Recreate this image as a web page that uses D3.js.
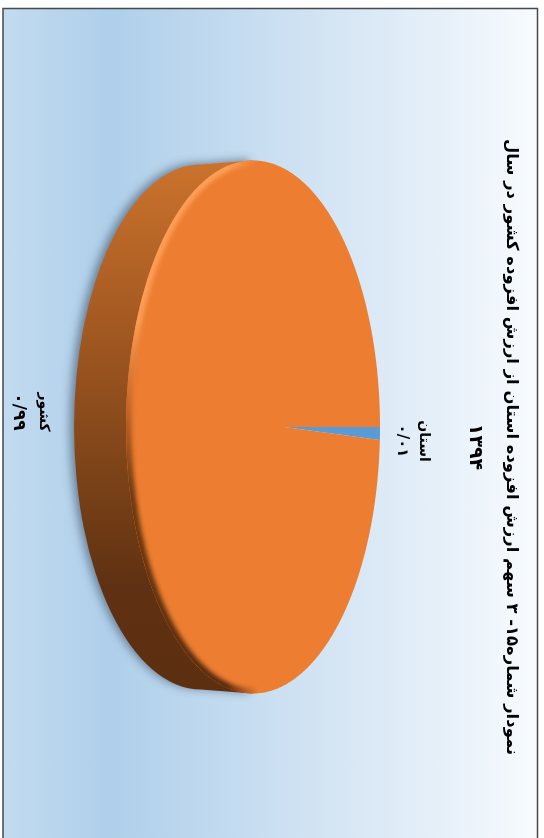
<!DOCTYPE html>
<html>
<head>
<meta charset="utf-8">
<script src="https://cdn.jsdelivr.net/npm/d3@7"></script>
<style>
    html, body { margin: 0; padding: 0; background: #fff; }
    svg { display: block; }
    text { font-family: "DejaVu Sans", sans-serif; fill: #000; direction: rtl; }
</style>
</head>
<body>
<svg width="544" height="838"></svg>
<script>
var categories = ["استان", "کشور"];
var shares = [0.01, 0.99];
var shareLabels = ["۰/۰۱", "۰/۹۹"];
var titleLines = ["نمودار شماره۱۵- ۳ سهم ارزش افزوده استان از ارزش افزوده کشور در سال", "۱۳۹۴"];
var sliceColors = ["#5b9bd5", "#ed7d31"];

var svg = d3.select("svg"),
    width = +svg.attr("width"),
    height = +svg.attr("height");

var defs = svg.append("defs");

function gradient(id, x2, y2, stops) {
    var g = defs.append("linearGradient")
        .attr("id", id)
        .attr("x1", 0).attr("y1", 0)
        .attr("x2", x2).attr("y2", y2);
    stops.forEach(function(s) {
        g.append("stop").attr("offset", s[0]).attr("stop-color", s[1]);
    });
}

function blur(id, dev) {
    defs.append("filter")
        .attr("id", id)
        .attr("x", "-20%").attr("y", "-20%")
        .attr("width", "140%").attr("height", "140%")
        .append("feGaussianBlur")
        .attr("stdDeviation", dev);
}

// plot background, lightest toward the title side
gradient("bg", 1, 0, [
    [0, "#c2dbf0"], [0.2, "#afcfea"], [0.45, "#c5dcf0"],
    [0.65, "#d8e7f5"], [0.82, "#e6f0f9"], [1, "#f8fbfe"]
]);
gradient("side", 0, 1, [
    [0, "#cb732d"], [0.3, "#a55a22"], [0.55, "#814619"], [0.8, "#5f3112"], [1, "#5c2f10"]
]);
gradient("rim", 0, 1, [
    [0, "#fba05a"], [0.3, "#fb9d55"], [0.45, "#c9682a"], [0.62, "#6e3a12"], [1, "#552b0e"]
]);
gradient("nearFade", 1, 0, [[0, "#fff"], [0.4, "#fff"], [0.52, "#000"], [1, "#000"]]);
blur("soft", 5);
blur("rimBlur", 2.2);
blur("textBlur", 0.25);

// frame
svg.append("rect")
    .attr("x", 3).attr("y", 9)
    .attr("width", 534).attr("height", height - 9)
    .attr("fill", "url(#bg)");
svg.append("path")
    .attr("d", "M3,838V8.5H537.5V838")
    .attr("fill", "none")
    .attr("stroke", "#46494d")
    .attr("stroke-width", 1.5);

// disc geometry on the page (the whole chart is turned 90 degrees)
var cx = 253, cy = 427, rx = 127, ry = 266.5;
var depth = 52;
var apexX = 284;
var persp = (apexX - cx) / rx;

var pieData = d3.pie().sort(null).startAngle(0).endAngle(2 * Math.PI)(shares);

// circle point seen in perspective, centre of the pie lands on the apex
function rimPoint(a) {
    var d = 1 + persp * Math.cos(a);
    return [
        cx + rx * (Math.cos(a) + persp) / d,
        cy + ry * Math.sin(a) * Math.sqrt(1 - persp * persp) / d
    ];
}

function slicePath(d) {
    var n = Math.max(4, Math.ceil((d.endAngle - d.startAngle) * 90));
    var pts = [[apexX, cy]];
    d3.range(n + 1).forEach(function(i) {
        pts.push(rimPoint(d.startAngle + (d.endAngle - d.startAngle) * i / n));
    });
    return d3.line()(pts) + "Z";
}

var sidePath = "M" + (cx - depth) + "," + (cy - ry + 4) +
    "L" + cx + "," + (cy - ry) +
    "L" + cx + "," + (cy + ry) +
    "L" + (cx - depth) + "," + (cy + ry - 4) +
    "A" + rx + "," + (ry - 4) + " 0 0 1 " + (cx - depth) + "," + (cy - ry + 4) + "Z";

// shadow under the disc
svg.append("path")
    .attr("d", sidePath)
    .attr("transform", "translate(-4,-1)")
    .attr("fill", "#4f6478")
    .attr("opacity", 0.75)
    .attr("filter", "url(#soft)");

svg.append("path")
    .attr("d", sidePath)
    .attr("fill", "url(#side)");

defs.append("clipPath").attr("id", "discClip")
    .append("ellipse")
    .attr("cx", cx).attr("cy", cy).attr("rx", rx).attr("ry", ry);

svg.append("g").selectAll("path.slice")
    .data(pieData)
    .enter().append("path")
    .attr("class", "slice")
    .attr("d", slicePath)
    .attr("fill", function(d, i) { return sliceColors[i]; });

defs.append("mask").attr("id", "nearMask")
    .attr("maskUnits", "userSpaceOnUse")
    .attr("x", 0).attr("y", 0).attr("width", width).attr("height", height)
    .append("rect")
    .attr("x", cx - rx - 5).attr("y", 0)
    .attr("width", 2 * rx + 10).attr("height", height)
    .attr("fill", "url(#nearFade)");

// bevel along the near edge of the disc
svg.append("g")
    .attr("clip-path", "url(#discClip)")
    .append("g")
    .attr("mask", "url(#nearMask)")
    .append("ellipse")
    .attr("cx", cx).attr("cy", cy).attr("rx", rx - 1).attr("ry", ry - 1)
    .attr("fill", "none")
    .attr("stroke", "url(#rim)")
    .attr("stroke-width", 9)
    .attr("filter", "url(#rimBlur)");

// all text reads top to bottom on the page
function turned(x, y, str, size, weight) {
    return svg.append("text")
        .attr("transform", "translate(" + x + "," + y + ") rotate(90)")
        .attr("text-anchor", "middle")
        .attr("font-size", size)
        .attr("font-weight", weight)
        .attr("filter", "url(#textBlur)")
        .text(str);
}

turned(507, 447, titleLines[0], 16.4, "bold");
turned(470, 447, titleLines[1], 19, "bold");

var labelX = [420, 40], valueX = [398, 14], labelY = [441, 412], valueSize = [15, 17];
categories.forEach(function(c, i) {
    turned(labelX[i], labelY[i], c, 14, "bold");
    turned(valueX[i], labelY[i], shareLabels[i], valueSize[i], "bold");
});
</script>
</body>
</html>
